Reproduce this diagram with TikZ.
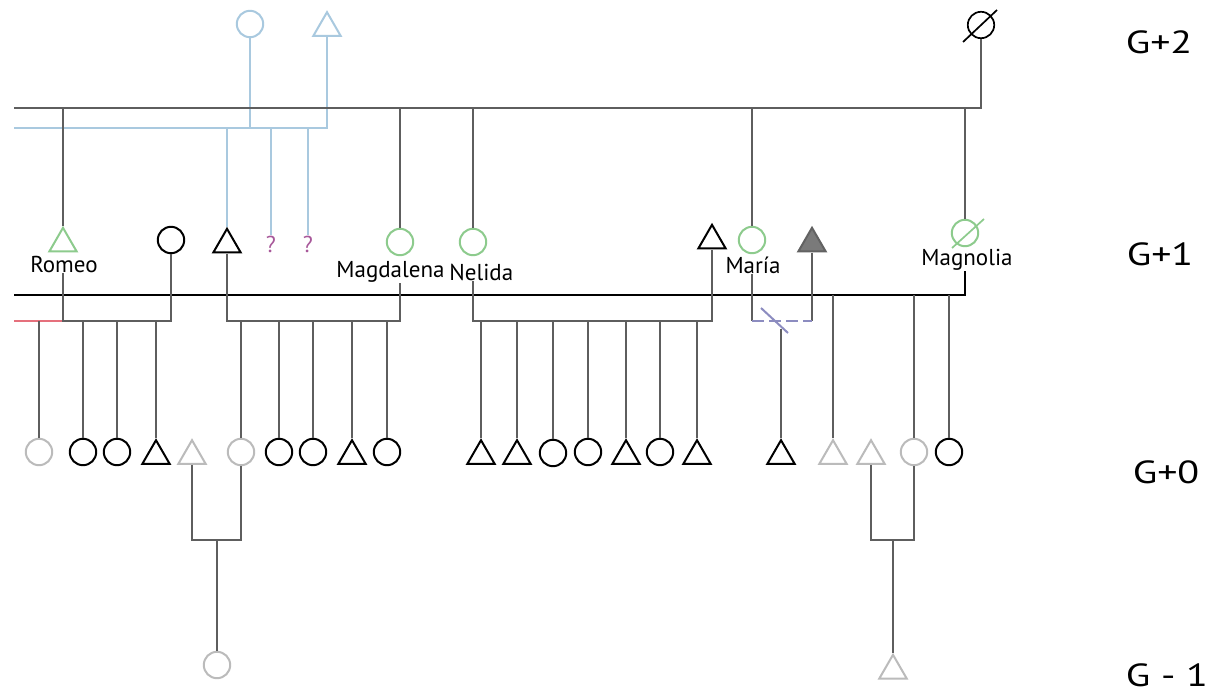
\documentclass[tikz,border=0pt]{standalone}
\usepackage{fontspec}
\setmainfont{PT Sans}
\usetikzlibrary{shapes.geometric}
\definecolor{lg}{HTML}{5E5E5E}
\definecolor{lt}{HTML}{BBBBBB}
\definecolor{bl}{HTML}{A9C9DF}
\definecolor{gr}{HTML}{8DCB8D}
\definecolor{qm}{HTML}{A8589A}
\definecolor{pu}{HTML}{8C8CC0}
\definecolor{rd}{HTML}{E5707C}
\definecolor{fl}{HTML}{7A7A7A}
\begin{document}
\begin{tikzpicture}[x=0.5pt,y=-0.5pt,
  fem/.style={circle,draw,minimum size=13.2pt,inner sep=0pt,line width=1pt},
  mal/.style={regular polygon,regular polygon sides=3,draw,minimum size=15.8pt,inner sep=0pt,line width=1pt},
  lightsh/.style={draw=lt},
  greensh/.style={draw=gr},
  bluesh/.style={draw=bl},
  ln/.style={draw=lg,line width=1.35pt},
  bln/.style={draw=bl,line width=1.1pt},
  thinln/.style={draw=black,line width=0.85pt},
  pname/.style={inner sep=0pt,font=\fontsize{11.5}{13}\selectfont},
  gen/.style={inner sep=0pt,font=\fontsize{16}{19}\selectfont},
  qmark/.style={inner sep=0pt,text=qm,font=\fontsize{11.5}{13}\selectfont}]
\useasboundingbox[fill=white] (0,0) rectangle (1209,695);

% ---------- G+2 ----------
\node[fem,bluesh] (gpc) at (250,24) {};
\node[mal,bluesh] (gpt) at (327,28) {};
\node[fem,draw=black,line width=0.85pt] (ggm) at (981,25) {};
\draw[black,line width=0.85pt] (963,42) -- (997,10);

% ---------- G+1 ----------
\node[mal,greensh] (romeo) at (63,243.6) {};
\node[pname] (romeoL) at (64,264) {Romeo};
\node[fem] (w1) at (171,240) {};
\node[mal] (h2) at (227,244.6) {};
\node[qmark] (q1) at (271,244) {?};
\node[qmark] (q2) at (308,244) {?};
\node[fem,greensh] (magda) at (400,242) {};
\node[pname,anchor=west] (magdaL) at (336,272) {Magdalena};
\node[fem,greensh] (nelida) at (473,242) {};
\node[pname,anchor=west] (nelidaL) at (449,272) {Nelida};
\node[mal] (h3) at (712,240.6) {};
\node[fem,greensh] (maria) at (752,240) {};
\node[pname] (mariaL) at (753,265) {María};
\node[mal,fill=fl,draw=fl!80!black] (h4) at (812,243.6) {};
\node[fem,greensh] (magno) at (965,233) {};
\draw[gr,line width=0.85pt] (952,248) -- (984,219);
\node[pname] (magnoL) at (967,260) {Magnolia};

% ---------- G+0 ----------
\node[fem,lightsh] (c01) at (39,452) {};
\node[fem] (c02) at (83,452) {};
\node[fem] (c03) at (117,452) {};
\node[mal] (c04) at (156,456) {};
\node[mal,lightsh] (c05) at (192,456) {};
\node[fem,lightsh] (c06) at (241,452) {};
\node[fem] (c07) at (279,452) {};
\node[fem] (c08) at (313,452) {};
\node[mal] (c09) at (352,456) {};
\node[fem] (c10) at (387,452) {};
\node[mal] (n01) at (481,456) {};
\node[mal] (n02) at (517,456) {};
\node[fem] (n03) at (553,453) {};
\node[fem] (n04) at (588,452) {};
\node[mal] (n05) at (626,456) {};
\node[fem] (n06) at (660,452) {};
\node[mal] (n07) at (697,456) {};
\node[mal] (m01) at (781,456) {};
\node[mal,lightsh] (r01) at (833,456) {};
\node[mal,lightsh] (r02) at (871,456) {};
\node[fem,lightsh] (r03) at (914,452) {};
\node[fem] (r04) at (949,452) {};

% ---------- G-1 ----------
\node[fem,lightsh] (g1c) at (217,665) {};
\node[mal,lightsh] (g1t) at (893,670.6) {};

% ---------- generation labels ----------
\node[gen] (G2) at (1159,42) {\scalebox{1.25}[1]{G+2}};
\node[gen] (G1) at (1160,254) {\scalebox{1.25}[1]{G+1}};
\node[gen] (G0) at (1166,472) {\scalebox{1.25}[1]{G+0}};
\node[gen] (Gm1) at (1167,675) {\scalebox{1.25}[1]{G - 1}};

% ---------- coordinates of line ends ----------
\coordinate (topL) at (14,108);
\coordinate (topR) at (981,108);
\coordinate (bluL) at (14,128);
\coordinate (bluR) at (327,128);
\coordinate (g1L) at (14,295);
\coordinate (g1R) at (965,295);
\coordinate (redL) at (14,321);
\coordinate (f1) at (63,321);
\coordinate (f2) at (227,321);
\coordinate (f3) at (473,321);
\coordinate (f4) at (752,321);
\coordinate (f4r) at (812,321);
\coordinate (mchild) at (781,329);
\coordinate (b1) at (192,540);
\coordinate (b1m) at (217,540);
\coordinate (b2) at (871,540);
\coordinate (b2m) at (893,540);

% ---------- blue lines ----------
\draw[bln] (bluL) -- (bluR) -- (gpt.south);
\draw[bln] (gpc.south) -- (gpc.south |- bluL);
\draw[bln] (h2.north |- bluL) -- (h2.north);
\draw[bln] (q1.north |- bluL) -- (q1.north);
\draw[bln] (q2.north |- bluL) -- (q2.north);

% ---------- G+2 lines ----------
\draw[ln] (topL) -- (topR) -- (ggm.south);
\draw[ln] (romeo.north |- topL) -- (romeo.north);
\draw[ln] (magda.north |- topL) -- (magda.north);
\draw[ln] (nelida.north |- topL) -- (nelida.north);
\draw[ln] (maria.north |- topL) -- (maria.north);
\draw[ln] (magno.north |- topL) -- (magno.north);

% ---------- G+1 line ----------
\draw[thinln] (g1L) -- (g1R) -- (magnoL.south -| g1R);

% ---------- family 1 ----------
\draw[rd,line width=1.3pt] (redL) -- (f1);
\draw[ln] (romeoL.south -| f1) -- (f1) -- (f1 -| w1.south) -- (w1.south);
\draw[ln] (c01.north |- redL) -- (c01.north);
\foreach \c in {c02,c03,c04} \draw[ln] (\c.north |- f1) -- (\c.north);

% ---------- family 2 ----------
\draw[ln] (h2.south) -- (f2) -- (f2 -| magda.south) -- (magda.south |- magdaL.south);
\foreach \c in {c06,c07,c08,c09,c10} \draw[ln] (\c.north |- f2) -- (\c.north);

% ---------- family 3 ----------
\draw[ln] (nelidaL.south -| f3) -- (f3) -- (f3 -| h3.south) -- (h3.south);
\foreach \c in {n01,n02,n03,n04,n05,n06,n07} \draw[ln] (\c.north |- f3) -- (\c.north);

% ---------- Maria ----------
\draw[ln] (mariaL.south -| f4) -- (f4);
\draw[ln] (h4.south) -- (f4r);
\draw[pu,line width=1.2pt,dash pattern=on 6pt off 2.5pt] (f4) -- (f4r);
\draw[pu,line width=1pt] (761,308) -- (788,333);
\draw[ln] (mchild) -- (m01.north);

% ---------- right group ----------
\foreach \c in {r01,r03,r04} \draw[ln] (\c.north |- g1L) -- (\c.north);
\draw[ln] (r02.south) -- (b2) -- (b2 -| r03.south) -- (r03.south);
\draw[ln] (b2m) -- (g1t.north);

% ---------- left bottom ----------
\draw[ln] (c05.south) -- (b1) -- (b1 -| c06.south) -- (c06.south);
\draw[ln] (b1m) -- (g1c.north);
\end{tikzpicture}
\end{document}
